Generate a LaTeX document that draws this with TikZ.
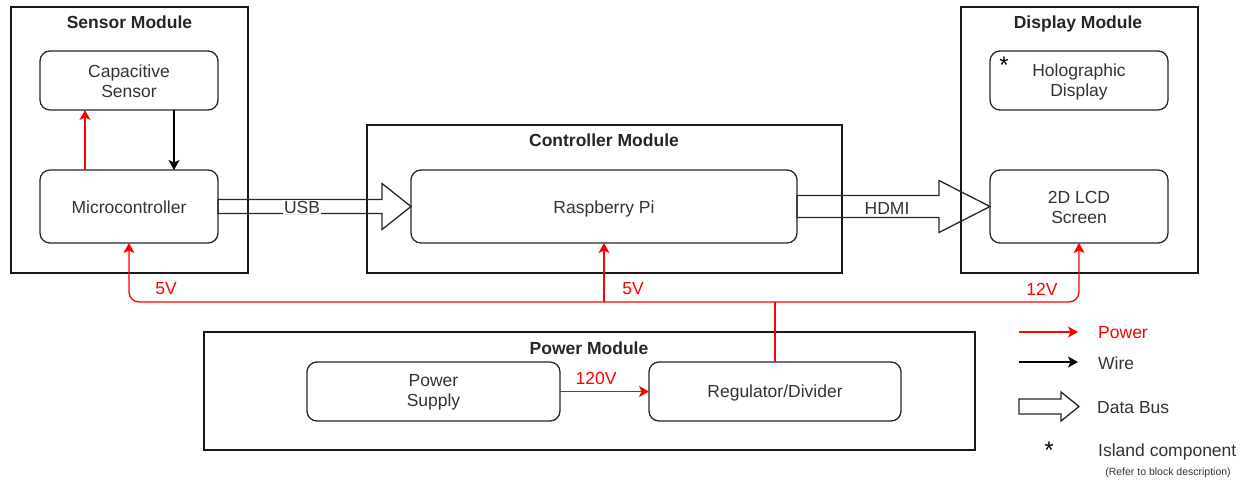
\documentclass[tikz,border=0pt]{standalone}
\usepackage{fontspec}
\setmainfont{Liberation Sans}
\usetikzlibrary{arrows.meta,calc}
\definecolor{txt}{HTML}{333333}
\definecolor{edge}{HTML}{262626}
\definecolor{pwr}{HTML}{FF0000}
\begin{document}
\begin{tikzpicture}[x=1pt,y=-1pt,
  font=\fontsize{17.5}{20}\selectfont,
  module/.style={draw=black!90, line width=1.3pt, inner sep=0pt, outer sep=0pt},
  blk/.style={draw=edge, line width=1.3pt, rounded corners=10pt, text=txt,
    align=center, inner sep=0pt, outer sep=0pt},
  title/.style={font=\fontsize{17.5}{20}\selectfont\bfseries, text=black!85},
  plbl/.style={text=pwr, inner sep=0pt},
  tip/.style={-{Stealth[length=10pt,width=11pt,inset=2.5pt]}},
  pwrarrow/.style={draw=pwr, line width=1.3pt, tip},
  pwrline/.style={draw=pwr, line width=1.3pt},
  wirearrow/.style={draw=black, line width=1.3pt, tip},
  databus/.style={draw=edge, line width=1.3pt, line join=miter},
  buslbl/.style={fill=white, text=txt, inner sep=1pt},
  legtext/.style={text=txt, anchor=west, inner sep=0pt},
  isle/.style={font=\fontsize{24}{24}\selectfont, text=black, inner sep=0pt}]
\useasboundingbox (0,0) rectangle (1247,479);

% module frames
\node[module, minimum width=237pt, minimum height=266pt] (sensorM) at (129.5,140) {};
\node[module, minimum width=475pt, minimum height=148pt] (ctrlM) at (604.5,199) {};
\node[module, minimum width=237pt, minimum height=266pt] (dispM) at (1079.5,140) {};
\node[module, minimum width=771pt, minimum height=118pt] (powerM) at (589.5,391) {};

% module titles; the text inside each is placed by hand
\node[title] (sensorT) at (129.5,22) {Sensor Module};
\node[title] (ctrlT) at (604,140) {Controller Module};
\node[title] (dispT) at (1078,24) {Display Module};
\node[title] (powerT) at (589,348) {Power Module};

% blocks; the text sits in a separate node so it can be nudged
\node[blk, minimum width=178pt, minimum height=59pt] (cap) at (129,80.5) {};
\node[text=txt, align=center] (capT) at (129,81.5) {Capacitive\\Sensor};
\node[blk, minimum width=178pt, minimum height=73pt] (micro) at (129,206.5) {};
\node[text=txt] (microT) at (129,207.5) {Microcontroller};
\node[blk, minimum width=386pt, minimum height=73pt] (rpi) at (604,206.5) {};
\node[text=txt] (rpiT) at (604,208.5) {Raspberry Pi};
\node[blk, minimum width=178pt, minimum height=59pt] (holo) at (1079,80.5) {};
\node[text=txt, align=center] (holoT) at (1079,82) {Holographic\\Display};
\node[blk, minimum width=178pt, minimum height=73pt] (lcd) at (1079,206.5) {};
\node[text=txt, align=center] (lcdT) at (1079,207.5) {2D LCD\\Screen};
\node[blk, minimum width=253pt, minimum height=59pt] (psu) at (433.5,391.5) {};
\node[text=txt, align=center] (psuT) at (433.5,392.5) {Power\\Supply};
\node[blk, minimum width=252pt, minimum height=59pt] (reg) at (775,391.5) {};
\node[text=txt] (regT) at (775,392.5) {Regulator/Divider};
\node[isle] (holostar) at (1004,65) {*};

% sensor module wiring
\draw[pwrarrow] ([xshift=-44pt]micro.north) -- ([xshift=-44pt]cap.south);
\draw[wirearrow] ([xshift=45pt]cap.south) -- ([xshift=45pt]micro.north);

% data buses
\draw[databus] ([yshift=7pt]micro.east) -- ([xshift=-29pt,yshift=7pt]rpi.west)
  -- ([xshift=-29pt,yshift=23pt]rpi.west) -- (rpi.west)
  -- ([xshift=-29pt,yshift=-23pt]rpi.west) -- ([xshift=-29pt,yshift=-7pt]rpi.west)
  -- ([yshift=-7pt]micro.east) -- cycle;
\node[buslbl] (usb) at (302,207) {USB};
\draw[databus] ([yshift=11pt]rpi.east) -- ([xshift=-51pt,yshift=11pt]lcd.west)
  -- ([xshift=-51pt,yshift=26pt]lcd.west) -- (lcd.west)
  -- ([xshift=-51pt,yshift=-26pt]lcd.west) -- ([xshift=-51pt,yshift=-11pt]lcd.west)
  -- ([yshift=-11pt]rpi.east) -- cycle;
\node[buslbl] (hdmi) at (887,208) {HDMI};

% power distribution
\coordinate (bus) at (reg.north |- 0,302);
\draw[pwrline] (reg.north) -- (bus);
\draw[pwrarrow, rounded corners=10pt] (bus) -| (micro.south);
\draw[pwrarrow, rounded corners=10pt] (bus) -| (lcd.south);
\draw[pwrarrow] (bus -| rpi.south) -- (rpi.south);
\draw[pwrarrow] (psu.east) -- (reg.west);
\node[plbl] (v5a) at (166,289) {5V};
\node[plbl] (v5b) at (633,289) {5V};
\node[plbl] (v12) at (1042,289) {12V};
\node[plbl] (v120) at (596,378) {120V};

% legend
\coordinate (lp0) at (1019,332); \coordinate (lp1) at (1078,332);
\coordinate (lw0) at (1019,362); \coordinate (lw1) at (1078,362);
\coordinate (ld0) at (1019,406.5); \coordinate (ld1) at (1079,406.5);
\draw[pwrarrow] (lp0) -- (lp1);
\draw[wirearrow] (lw0) -- (lw1);
\draw[databus] ([yshift=7.5pt]ld0) -- ([xshift=-18pt,yshift=7.5pt]ld1)
  -- ([xshift=-18pt,yshift=14.5pt]ld1) -- (ld1)
  -- ([xshift=-18pt,yshift=-14.5pt]ld1) -- ([xshift=-18pt,yshift=-7.5pt]ld1)
  -- ([yshift=-7.5pt]ld0) -- cycle;
\node[legtext, text=pwr] (lgpower) at (1098,333) {Power};
\node[legtext] (lgwire) at (1098,363) {Wire};
\node[legtext] (lgbus) at (1097,408) {Data Bus};
\node[isle] (lgstar) at (1049,450) {*};
\node[legtext] (lgisle) at (1098,452) {Island component};
\node[text=txt, inner sep=0pt, font=\fontsize{10.5}{12}\selectfont] (lgnote) at (1168,473) {(Refer to block description)};
\end{tikzpicture}
\end{document}
